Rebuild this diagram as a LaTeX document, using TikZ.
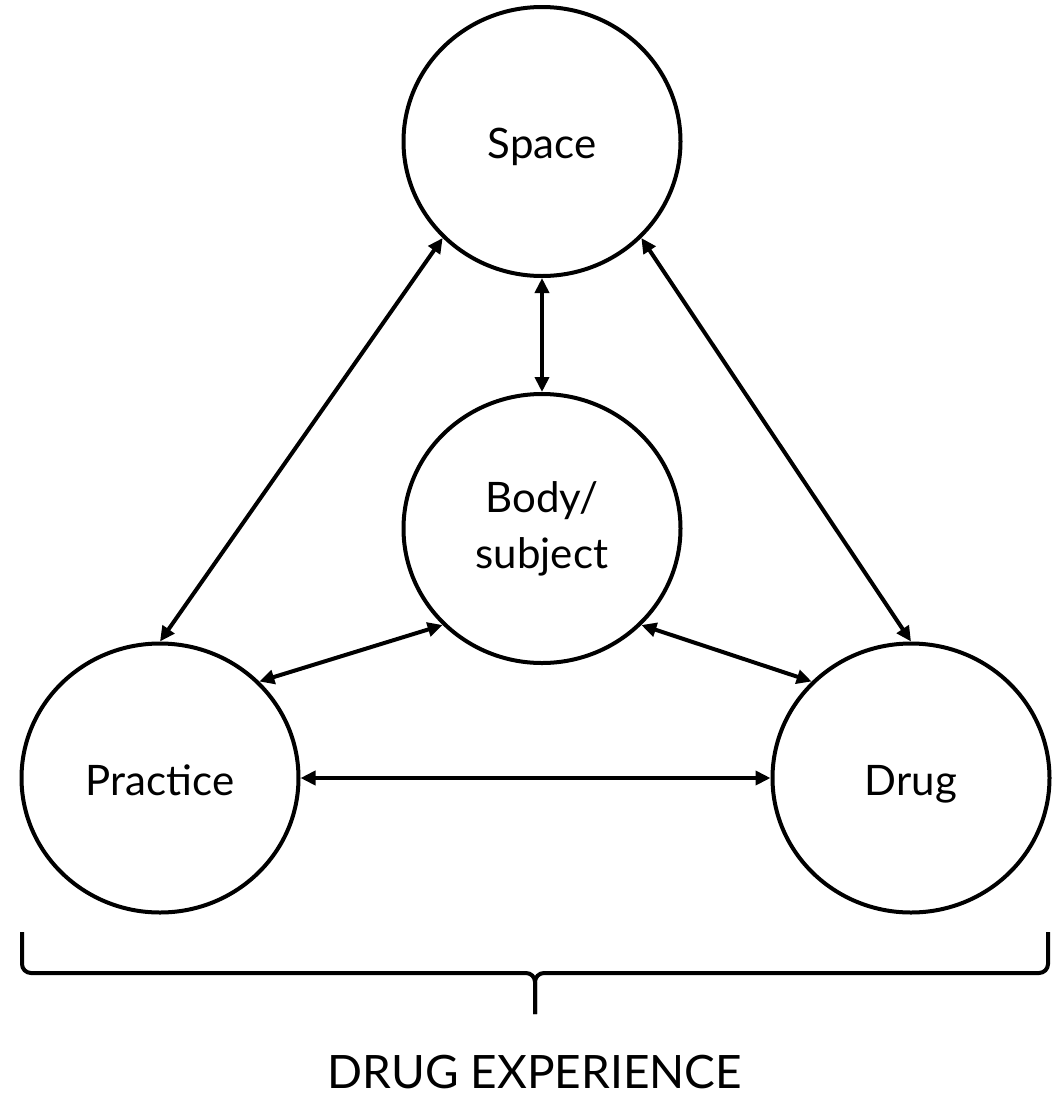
\documentclass[tikz,border=0pt]{standalone}
\usepackage{fontspec}
\setmainfont{Lato}
\usepackage{tikz}
\usetikzlibrary{arrows.meta,shapes.geometric,positioning}
\tikzset{
    >={Triangle[length=15pt,width=14pt]},
    link/.style={draw, line width=4pt, <->},
    bracket/.style={draw, line width=4pt, rounded corners=9pt},
}

\begin{document}
\begin{tikzpicture}
[
    x=1pt, y=1pt,
    bubble/.style={ellipse, draw, line width=4pt, inner sep=0pt,
        minimum width=277pt, minimum height=269pt,
        align=center, font={\fontsize{42}{56}\selectfont}},
    oneline/.style={text height=36pt, text depth=2pt},
    caption/.style={anchor=base, font={\fontsize{46}{52}\selectfont}},
]
\useasboundingbox (0,0) rectangle (1061,-1101);
\node (space) at (542,-141.5) [bubble, oneline] {Space};
\node (body) at (542,-528.5) [bubble] {Body/\\subject};
\node (practice) at (160,-778) [bubble, oneline] {Practice};
\node (drug) at (911,-778) [bubble, oneline] {Drug};

\draw[link] (space.south) -- (body.north);
\draw[link] (space.south west) -- (practice.north);
\draw[link] (space.south east) -- (drug.north);
\draw[link] (body.south west) -- (practice.north east);
\draw[link] (body.south east) -- (drug.north west);
\draw[link] (practice.east) -- (drug.west);

% brace under the two lower circles
\coordinate (bl) at (22,-932);
\coordinate (br) at (1048,-932);
\coordinate (bm) at (535,-973);
\coordinate (bt) at (535,-1014);
\draw[bracket] (bl) |- (bm) -- (bt);
\draw[bracket] (br) |- (bm) -- (bt);

\node (exp) at (535,-1088) [caption] {DRUG EXPERIENCE};
\end{tikzpicture}
\end{document}
